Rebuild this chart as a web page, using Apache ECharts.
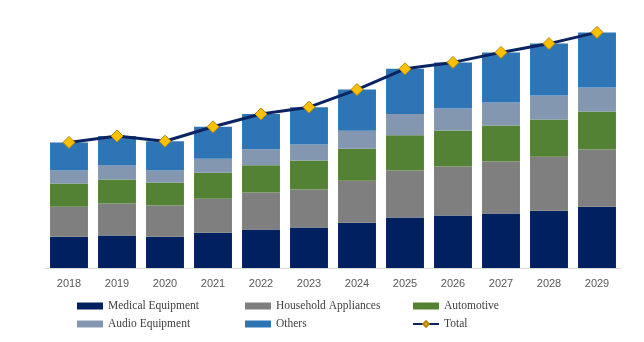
<!DOCTYPE html>
<html>
<head>
<meta charset="utf-8">
<script src="https://cdn.jsdelivr.net/npm/echarts@6/dist/echarts.min.js"></script>
<style>
  html, body { margin: 0; padding: 0; background: #ffffff; }
  #chart { width: 644px; height: 342px; }
</style>
</head>
<body>
<div id="chart"></div>
<script>
// Market size by application, 2018-2029
const years = ['2018', '2019', '2020', '2021', '2022', '2023', '2024', '2025', '2026', '2027', '2028', '2029'];
const medicalEquipment    = [7.8, 8.1, 7.8, 8.8, 9.6, 10.1, 11.3, 12.6, 13.1, 13.6, 14.3, 15.3];
const householdAppliances = [7.5, 8.0, 7.8, 8.5, 9.3, 9.5, 10.5, 11.8, 12.3, 13.0, 13.5, 14.3];
const automotive          = [5.8, 6.0, 5.8, 6.5, 6.8, 7.3, 8.0, 8.8, 9.0, 9.0, 9.3, 9.5];
const audioEquipment      = [3.3, 3.5, 3.0, 3.5, 4.0, 4.0, 4.5, 5.3, 5.5, 5.8, 6.0, 6.0];
const others              = [7.0, 7.4, 7.3, 8.0, 8.8, 9.3, 10.3, 11.3, 11.5, 12.5, 13.0, 13.8];
const total               = [31.4, 33.0, 31.7, 35.3, 38.5, 40.2, 44.6, 49.8, 51.4, 53.9, 56.1, 58.9];

const chart = echarts.init(document.getElementById('chart'), null, { renderer: 'canvas' });

const legendText = { fontFamily: 'Liberation Serif', fontSize: 11.5, color: '#404040' };
function legendItem(name) {
  return name === 'Total' ? { name: name } : { name: name, icon: 'rect' };
}
function legendColumn(left, names) {
  return {
    orient: 'vertical', left: left, top: 300, padding: 0, itemWidth: 26, itemHeight: 7,
    itemGap: 6, data: names.map(legendItem), textStyle: legendText, selectedMode: false
  };
}

function barSeries(name, data, color) {
  return {
    name: name, type: 'bar', stack: 'total', data: data, barCategoryGap: '21%',
    itemStyle: { color: color }, emphasis: { disabled: true }
  };
}

chart.setOption({
  animation: false,
  backgroundColor: '#ffffff',
  grid: { left: 45, right: 23, top: 28, bottom: 74 },
  legend: [
    legendColumn(77, ['Medical Equipment', 'Audio Equipment']),
    legendColumn(245, ['Household Appliances', 'Others']),
    legendColumn(412, ['Automotive', 'Total'])
  ],
  xAxis: {
    type: 'category', data: years,
    axisLine: { lineStyle: { color: '#d9d9d9', width: 1 } },
    axisTick: { show: false },
    axisLabel: { color: '#595959', fontFamily: 'Liberation Sans', fontSize: 11, margin: 10 }
  },
  yAxis: {
    type: 'value', min: 0, max: 60, show: false,
    splitLine: { show: false }
  },
  series: [
    barSeries('Medical Equipment', medicalEquipment, '#002060'),
    barSeries('Household Appliances', householdAppliances, '#7f7f7f'),
    barSeries('Automotive', automotive, '#548235'),
    barSeries('Audio Equipment', audioEquipment, '#8497b0'),
    barSeries('Others', others, '#2e75b6'),
    {
      name: 'Total', type: 'line', data: total, z: 5,
      symbol: 'diamond', symbolSize: 12,
      lineStyle: { color: '#0a2463', width: 3 },
      itemStyle: { color: '#ffc000', borderColor: '#b8860b', borderWidth: 1 },
      emphasis: { disabled: true }
    }
  ]
});
</script>
</body>
</html>
